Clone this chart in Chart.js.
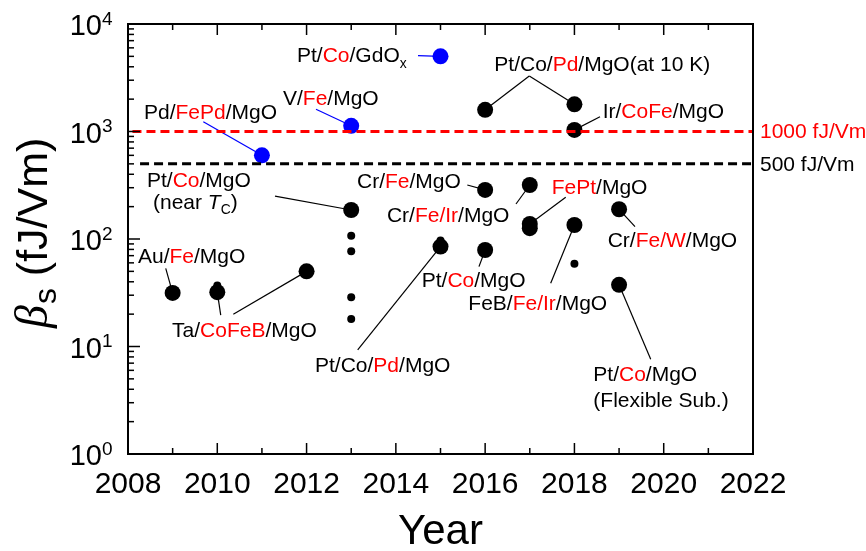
<!DOCTYPE html>
<html><head><meta charset="utf-8">
<script src="https://cdn.jsdelivr.net/npm/chart.js@4.4.0/dist/chart.umd.min.js"></script>
<style>html,body{margin:0;padding:0;background:#fff;}canvas{display:block}</style>
</head><body>
<canvas id="c" width="866" height="551"></canvas>
<script>
// ---------- data ----------
const xTickYears = [2008, 2010, 2012, 2014, 2016, 2018, 2020, 2022];
const xMinorYears = [2009, 2011, 2013, 2015, 2017, 2019, 2021];
const yTickExponents = [0, 1, 2, 3, 4];
const blueYears = [2011, 2013, 2015];
const blueValues = [600, 1130, 5000];
const blackYears = [2009, 2010, 2012, 2013, 2015, 2016, 2016, 2016, 2017, 2017, 2017, 2018, 2018, 2018, 2019, 2019];
const blackValues = [31.5, 32, 50, 186, 85, 79, 286, 1590, 318, 138, 126, 1790, 1035, 135, 189, 37.5];
const smallYears = [2010, 2013, 2013, 2013, 2013, 2015, 2018];
const smallValues = [37, 107, 77, 28.7, 18, 97, 59];
const thresholdValues = [1000, 500];
const thresholdLabels = ['1000 fJ/Vm', '500 fJ/Vm'];
const xTitle = 'Year';

// annotations: text segments ([text, style]), anchor (year, value), leaders in data coords
const annotations = [
  {segs: [['Pt/'], ['Co', 'r'], ['/GdO'], ['x', 'sub']], x: 2011.786, y: 4432, lead: [[2014.496, 5070, 2015, 5000]], lc: '#0000ff'},
  {segs: [['V/'], ['Fe', 'r'], ['/MgO']], x: 2011.472, y: 1764, lead: [[2012.211, 1609, 2013, 1130]], lc: '#0000ff'},
  {segs: [['Pd/'], ['FePd', 'r'], ['/MgO']], x: 2008.358, y: 1307, lead: [[2009.687, 1234, 2011, 600]], lc: '#0000ff'},
  {segs: [['Pt/'], ['Co', 'r'], ['/MgO']], x: 2008.426, y: 304.6, lead: [[2011.293, 251, 2013, 186]]},
  {segs: [['(near '], ['T', 'i'], ['C', 'sub'], [')']], x: 2008.56, y: 192},
  {segs: [['Au/'], ['Fe', 'r'], ['/MgO']], x: 2008.224, y: 59.8, lead: [[2008.845, 53.4, 2009, 31.5]]},
  {segs: [['Ta/'], ['CoFeB', 'r'], ['/MgO']], x: 2008.986, y: 12.26, lead: [[2010.077, 19.6, 2010, 32], [2010.359, 19.93, 2012, 50]]},
  {segs: [['Pt/Co/'], ['Pd', 'r'], ['/MgO']], x: 2012.189, y: 5.79, lead: [[2013.145, 9.28, 2015, 85]]},
  {segs: [['Cr/'], ['Fe', 'r'], ['/MgO']], x: 2013.13, y: 295, lead: [[2015.6, 318, 2016, 286]]},
  {segs: [['Cr/'], ['Fe/Ir', 'r'], ['/MgO']], x: 2013.80, y: 143.9, lead: [[2016.691, 211.7, 2017, 318]]},
  {segs: [['Pt/'], ['Co', 'r'], ['/MgO']], x: 2014.579, y: 35.8, lead: [[2015.862, 55.3, 2016, 79]]},
  {segs: [['FePt', 'r'], ['/MgO']], x: 2017.491, y: 265, lead: [[2017.805, 244, 2017, 138]]},
  {segs: [['FeB/'], ['Fe/Ir', 'r'], ['/MgO']], x: 2015.623, y: 21.9, lead: [[2017.468, 38.7, 2018, 135]]},
  {segs: [['Pt/Co/'], ['Pd', 'r'], ['/MgO(at 10 K)']], x: 2016.205, y: 3654, lead: [[2016.989, 3283, 2016, 1590], [2016.989, 3283, 2018, 1790]]},
  {segs: [['Ir/'], ['CoFe', 'r'], ['/MgO']], x: 2018.633, y: 1327, lead: [[2018.573, 1373, 2018, 1035]]},
  {segs: [['Cr/'], ['Fe/W', 'r'], ['/MgO']], x: 2018.745, y: 84.3, lead: [[2019.357, 130.2, 2019, 189]]},
  {segs: [['Pt/'], ['Co', 'r'], ['/MgO']], x: 2018.423, y: 4.78, lead: [[2019.709, 7.60, 2019, 37.5]]},
  {segs: [['(Flexible Sub.)']], x: 2018.423, y: 2.74}
];

const FONT = "'Liberation Sans', Arial, sans-serif";
const RED = '#ff0000';

function pts(xs, ys) { return xs.map((x, i) => ({x: x, y: ys[i]})); }

function drawRich(ctx, x, y, segs, size) {
  let cx = x;
  ctx.textAlign = 'left';
  ctx.textBaseline = 'alphabetic';
  segs.forEach(s => {
    const t = s[0], st = s[1] || '';
    let fs = size, dy = 0, it = '';
    if (st === 'sub') { fs = size * 0.66; dy = size * 0.28; }
    if (st === 'i') it = 'italic ';
    ctx.font = it + fs + 'px ' + FONT;
    ctx.fillStyle = st === 'r' ? RED : '#000';
    ctx.fillText(t, cx, y + dy);
    cx += ctx.measureText(t).width;
  });
}

const deco = {
  id: 'deco',
  beforeDatasetsDraw(chart) {
    const ctx = chart.ctx, xs = chart.scales.x, ys = chart.scales.y;
    ctx.save();
    ctx.lineWidth = 1.2;
    annotations.forEach(a => {
      (a.lead || []).forEach(l => {
        ctx.strokeStyle = a.lc || '#000';
        ctx.beginPath();
        ctx.moveTo(xs.getPixelForValue(l[0]), ys.getPixelForValue(l[1]));
        ctx.lineTo(xs.getPixelForValue(l[2]), ys.getPixelForValue(l[3]));
        ctx.stroke();
      });
    });
    ctx.restore();
  },
  afterDraw(chart) {
    const ctx = chart.ctx, xs = chart.scales.x, ys = chart.scales.y, ca = chart.chartArea;
    ctx.save();
    // ticks
    ctx.strokeStyle = '#000';
    ctx.lineWidth = 1.5;
    const tick = (x1, y1, x2, y2) => { ctx.beginPath(); ctx.moveTo(x1, y1); ctx.lineTo(x2, y2); ctx.stroke(); };
    xTickYears.forEach(v => {
      const px = xs.getPixelForValue(v);
      tick(px, ca.bottom, px, ca.bottom - 11);
      tick(px, ca.top, px, ca.top + 11);
    });
    xMinorYears.forEach(v => {
      const px = xs.getPixelForValue(v);
      tick(px, ca.bottom, px, ca.bottom - 6);
      tick(px, ca.top, px, ca.top + 6);
    });
    yTickExponents.forEach(e => {
      const py = ys.getPixelForValue(Math.pow(10, e));
      tick(ca.left, py, ca.left + 12, py);
      if (e < yTickExponents[yTickExponents.length - 1]) {
        for (let k = 2; k <= 9; k++) {
          const pm = ys.getPixelForValue(k * Math.pow(10, e));
          tick(ca.left, pm, ca.left + 6, pm);
        }
      }
    });
    // frame
    ctx.lineWidth = 2;
    ctx.strokeRect(ca.left, ca.top, ca.right - ca.left, ca.bottom - ca.top);
    // x tick labels
    ctx.fillStyle = '#000';
    ctx.font = '30px ' + FONT;
    ctx.textAlign = 'center';
    ctx.textBaseline = 'alphabetic';
    xTickYears.forEach(v => ctx.fillText(String(v), xs.getPixelForValue(v), ca.bottom + 39));
    // y tick labels 10^n
    yTickExponents.forEach(e => {
      const py = ys.getPixelForValue(Math.pow(10, e));
      ctx.font = '29px ' + FONT;
      ctx.textAlign = 'right';
      ctx.fillText('10', ca.left - 26, py + 11);
      ctx.font = '19px ' + FONT;
      ctx.textAlign = 'left';
      ctx.fillText(String(e), ca.left - 26, py + 0.5);
    });
    // x title
    ctx.font = '42px ' + FONT;
    ctx.textAlign = 'center';
    ctx.fillText(xTitle, (ca.left + ca.right) / 2, 544);
    // y title
    ctx.save();
    ctx.translate(47, 328);
    ctx.rotate(-Math.PI / 2);
    ctx.textAlign = 'left';
    let cx = 0;
    ctx.font = 'italic 46px "Liberation Serif", "Times New Roman", serif';
    ctx.fillText('\u03B2', cx, 0);
    cx += ctx.measureText('\u03B2').width + 1;
    ctx.font = '32px ' + FONT;
    ctx.fillText('s', cx, 9);
    cx += ctx.measureText('s').width;
    ctx.font = '43px ' + FONT;
    ctx.fillText(' (fJ/Vm)', cx, 0);
    ctx.restore();
    // threshold labels
    ctx.font = '21px ' + FONT;
    ctx.textAlign = 'left';
    ctx.textBaseline = 'middle';
    thresholdValues.forEach((v, i) => {
      ctx.fillStyle = i === 0 ? RED : '#000';
      ctx.fillText(thresholdLabels[i], ca.right + 7, ys.getPixelForValue(v) + 1);
    });
    // annotations
    annotations.forEach(a => drawRich(ctx, xs.getPixelForValue(a.x), ys.getPixelForValue(a.y), a.segs, 21));
    ctx.restore();
  }
};

new Chart(document.getElementById('c'), {
  type: 'scatter',
  data: {
    datasets: [
      {type: 'line', showLine: true, data: [{x: 2008.1, y: thresholdValues[0]}, {x: 2022, y: thresholdValues[0]}], borderColor: RED, borderWidth: 3, borderDash: [9, 5], pointRadius: 0, fill: false},
      {type: 'line', showLine: true, data: [{x: 2008.27, y: thresholdValues[1]}, {x: 2022, y: thresholdValues[1]}], borderColor: '#000', borderWidth: 3, borderDash: [9, 5], pointRadius: 0, fill: false},
      {data: pts(blueYears, blueValues), backgroundColor: '#0000ff', borderWidth: 0, pointRadius: 8},
      {data: pts(blackYears, blackValues), backgroundColor: '#000', borderWidth: 0, pointRadius: 8},
      {data: pts(smallYears, smallValues), backgroundColor: '#000', borderWidth: 0, pointRadius: 4}
    ]
  },
  options: {
    responsive: false,
    animation: false,
    devicePixelRatio: 1,
    layout: {padding: {left: 128, right: 113, top: 24, bottom: 97}},
    plugins: {legend: {display: false}, tooltip: {enabled: false}},
    scales: {
      x: {type: 'linear', min: 2008, max: 2022, display: false},
      y: {type: 'logarithmic', min: 1, max: 10000, display: false}
    }
  },
  plugins: [deco]
});
</script>
</body></html>
